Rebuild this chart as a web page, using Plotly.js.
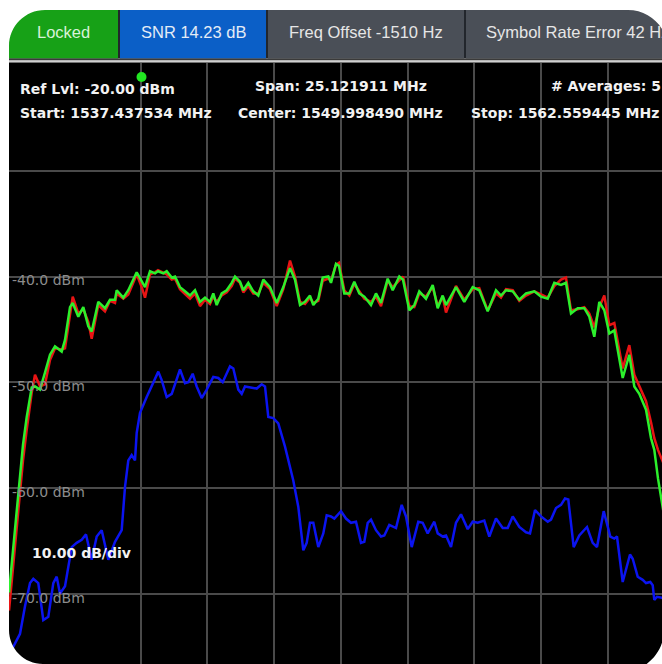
<!DOCTYPE html>
<html>
<head>
<meta charset="utf-8">
<script src="https://cdn.plot.ly/plotly-3.0.1.min.js"></script>
<style>
html,body{margin:0;padding:0;background:#ffffff;overflow:hidden;}
#chart{width:662px;height:664px;}
</style>
</head>
<body>
<div id="chart"></div>
<script>
// ---------- data ----------
const startFreq = 1537.437534;   // MHz
const stopFreq  = 1562.559445;   // MHz
const divFreq   = 2.5121911;     // MHz per division
const refLevel  = -20;           // dBm
const dbPerDiv  = 10;

const traceFreq = [
1537.502,1537.765,1538.029,1538.168,1538.357,1538.481,1538.669,1538.857,1539.046,1539.234,
1539.486,1539.611,1539.799,1539.901,1540.112,1540.300,1540.488,1540.616,1540.865,1541.117,
1541.306,1541.494,1541.558,1541.807,1541.995,1542.311,1542.500,1542.624,1542.812,1543.001,
1543.114,1543.313,1543.441,1543.630,1543.754,1543.942,1544.130,1544.319,1544.507,1544.695,
1544.884,1545.072,1545.196,1545.324,1545.513,1545.701,1545.889,1546.014,1546.202,1546.326,
1546.515,1546.703,1546.891,1547.080,1547.332,1547.584,1547.833,1548.085,1548.273,1548.462,
1548.650,1548.838,1548.963,1549.151,1549.317,1549.528,1549.629,1549.818,1549.931,1550.130,
1550.319,1550.507,1550.695,1550.884,1551.136,1551.324,1551.513,1551.765,1551.953,1552.202,
1552.341,1552.578,1552.767,1552.955,1553.207,1553.460,1553.648,1553.836,1553.961,1554.337,
1554.650,1554.966,1555.215,1555.531,1555.844,1556.032,1556.221,1556.473,1556.722,1556.974,
1557.286,1557.539,1557.791,1558.040,1558.292,1558.480,1558.669,1558.921,1559.170,1559.358,
1559.546,1559.735,1559.923,1560.111,1560.300,1560.616,1560.865,1561.053,1561.241,1561.494,
1561.682,1561.806,1561.945,1562.172];

const greenLevel = [
-69.9,-62.8,-55.9,-53.3,-50.5,-50.4,-50.7,-49.1,-47.4,-46.6,
-47.1,-46.0,-42.9,-42.5,-43.8,-42.9,-44.7,-45.2,-42.4,-43.0,
-42.2,-42.2,-41.3,-42.0,-41.3,-39.6,-40.5,-41.0,-39.5,-39.7,
-39.5,-39.7,-39.5,-40.1,-40.0,-41.0,-41.4,-41.8,-41.3,-42.4,
-42.0,-42.4,-41.6,-42.7,-41.6,-41.3,-40.6,-40.0,-40.5,-41.3,
-40.6,-41.4,-41.8,-40.3,-41.0,-42.5,-41.0,-39.2,-40.3,-42.7,
-42.4,-41.8,-42.7,-42.1,-40.1,-40.0,-40.6,-38.8,-39.0,-41.6,
-41.6,-40.5,-41.6,-41.9,-42.7,-41.6,-42.5,-40.2,-41.3,-40.0,
-40.3,-43.2,-42.7,-41.4,-42.1,-40.8,-43.0,-41.8,-42.7,-41.0,
-42.4,-41.0,-41.3,-43.3,-41.3,-41.8,-41.3,-41.4,-42.2,-41.6,
-41.4,-41.9,-42.1,-40.6,-40.8,-40.6,-43.5,-43.0,-43.0,-43.8,
-45.7,-42.4,-43.2,-45.4,-45.1,-49.6,-47.4,-50.4,-51.1,-52.6,
-55.3,-56.4,-59.1,-62.6];

const redLevel = [
-71.6,-64.5,-57.4,-54.5,-51.0,-49.3,-50.4,-50.2,-47.9,-46.8,
-46.9,-46.8,-43.6,-41.9,-43.5,-43.1,-44.3,-45.9,-42.7,-43.3,
-42.3,-42.5,-41.6,-42.1,-41.7,-39.8,-41.0,-42.0,-39.8,-39.6,
-39.4,-39.6,-39.8,-40.3,-40.2,-41.2,-41.7,-42.1,-41.6,-42.8,
-42.2,-42.6,-41.9,-42.4,-41.8,-41.5,-40.9,-40.2,-40.6,-41.5,
-40.9,-41.6,-41.6,-40.6,-41.2,-42.8,-41.2,-38.5,-40.0,-42.4,
-42.6,-42.0,-42.5,-42.3,-40.4,-40.2,-40.4,-38.9,-38.7,-41.3,
-41.8,-40.7,-41.4,-42.1,-42.4,-41.9,-42.8,-40.4,-41.0,-40.3,
-40.0,-42.8,-42.9,-41.6,-41.9,-41.0,-42.8,-41.9,-43.4,-40.9,
-42.2,-41.2,-41.1,-43.2,-41.6,-42.0,-41.2,-41.3,-42.3,-41.8,
-41.4,-41.7,-42.0,-40.9,-40.3,-40.1,-43.2,-43.1,-42.9,-43.5,
-44.8,-42.9,-41.8,-44.6,-44.4,-48.7,-46.5,-49.3,-50.3,-51.8,
-53.8,-55.3,-56.4,-57.8];

const blueFreq = [
1537.502,1537.727,1537.916,1538.104,1538.293,1538.417,1538.605,1538.793,1538.982,1539.170,
1539.298,1539.422,1539.611,1539.863,1540.051,1540.240,1540.402,1540.616,1540.805,1540.993,
1541.242,1541.494,1541.746,1541.871,1541.995,1542.123,1542.247,1542.311,1542.436,1542.688,
1542.936,1543.125,1543.253,1543.441,1543.630,1543.942,1544.130,1544.255,1544.420,1544.571,
1544.759,1544.948,1545.196,1545.385,1545.550,1545.825,1545.950,1546.138,1546.266,1546.390,
1546.831,1547.019,1547.144,1547.268,1547.456,1547.644,1547.897,1548.209,1548.398,1548.586,
1548.714,1548.838,1548.963,1549.151,1549.339,1549.467,1549.629,1549.754,1550.006,1550.194,
1550.383,1550.571,1550.759,1550.884,1551.012,1551.136,1551.324,1551.513,1551.637,1551.825,
1552.078,1552.292,1552.454,1552.669,1552.917,1553.083,1553.271,1553.520,1553.648,1553.836,
1553.961,1554.149,1554.337,1554.526,1554.778,1554.966,1555.155,1555.403,1555.592,1555.844,
1556.096,1556.285,1556.473,1556.722,1556.974,1557.124,1557.313,1557.539,1557.791,1557.915,
1558.104,1558.292,1558.443,1558.567,1558.770,1558.981,1559.271,1559.486,1559.648,1559.900,
1560.149,1560.300,1560.401,1560.616,1560.891,1560.993,1561.181,1561.369,1561.494,1561.656,
1561.746,1561.806,1561.908,1562.096,1562.247];

const blueLevel = [
-75.8,-74.7,-73.8,-71.2,-69.0,-68.6,-69.0,-72.5,-72.2,-69.0,
-68.4,-70.0,-69.3,-65.6,-65.2,-64.9,-64.4,-66.8,-64.6,-64.0,
-66.8,-65.1,-64.0,-59.9,-57.4,-56.9,-57.4,-54.8,-52.9,-51.4,
-50.1,-49.0,-49.8,-51.4,-51.1,-48.8,-50.1,-50.0,-49.2,-50.4,
-51.5,-50.7,-49.5,-49.6,-50.0,-48.5,-48.7,-50.7,-51.1,-50.4,
-50.6,-50.2,-50.4,-53.3,-53.4,-53.9,-56.1,-59.3,-61.8,-65.9,
-65.2,-63.3,-63.3,-65.6,-64.3,-62.6,-62.7,-62.9,-62.2,-62.9,
-63.3,-63.2,-65.2,-65.1,-63.3,-63.0,-64.0,-64.6,-64.5,-63.5,
-63.8,-61.6,-62.7,-65.6,-63.2,-63.3,-64.3,-63.2,-64.3,-64.6,
-64.5,-65.6,-63.3,-62.5,-63.9,-63.2,-63.3,-63.1,-64.6,-62.9,
-63.8,-63.8,-62.7,-63.7,-64.2,-64.3,-62.1,-62.7,-63.2,-63.0,
-61.9,-61.6,-61.0,-61.1,-65.6,-64.5,-63.7,-65.2,-65.6,-62.2,
-64.6,-64.8,-64.6,-68.9,-66.3,-66.7,-68.4,-68.7,-69.0,-68.9,
-69.2,-70.6,-70.3,-70.4,-70.6];

const yTickVals = [-30, -40, -50, -60, -70];
const yTickText = ["", "-40.0 dBm", "-50.0 dBm", "-60.0 dBm", "-70.0 dBm"];
const labelledTicks = [-40, -50, -60, -70];

const tabLabels = ["Locked", "SNR 14.23 dB", "Freq Offset -1510 Hz", "Symbol Rate Error 42 Hz"];
const infoLabels = ["Ref Lvl: -20.00 dBm", "Span: 25.121911 MHz", "# Averages: 5",
                    "Start: 1537.437534 MHz", "Center: 1549.998490 MHz", "Stop: 1562.559445 MHz"];
const scaleLabel = "10.00 dB/div";

// ---------- geometry helpers (pixel -> paper fraction) ----------
const W = 662, H = 664;
const PX = p => p / W;
const PY = p => 1 - p / H;

const shapes = [];
function rectPx(x0, y0, x1, y1, color, layer) {
  shapes.push({type:'rect', xref:'paper', yref:'paper', x0:PX(x0), x1:PX(x1), y0:PY(y1), y1:PY(y0),
               fillcolor:color, line:{width:0}, layer:layer || 'above'});
}
// tab bar
rectPx(9, 10, 670, 58.5, '#22262c', 'below');
rectPx(9, 10, 118, 58.5, '#17a117', 'below');
rectPx(120, 10, 266, 58.5, '#0b5fc7', 'below');
rectPx(268, 10, 464, 58.5, '#4a4f57', 'below');
rectPx(466, 10, 670, 58.5, '#4a4f57', 'below');
// separator under tabs
rectPx(9, 58.5, 670, 60.5, '#3a3a3a', 'below');
rectPx(9, 60.5, 670, 62.6, '#cfcfcf', 'below');
rectPx(9, 62.6, 670, 63.2, '#000000', 'below');

// black boxes behind the level labels
labelledTicks.forEach(v => {
  shapes.push({type:'rect', xref:'paper', yref:'y', x0:PX(9), x1:PX(85), y0:v - 1.18, y1:v + 0.61,
               fillcolor:'#000000', line:{width:0}, layer:'between'});
});
// reference-level marker dot
shapes.push({type:'circle', xref:'paper', yref:'paper', x0:PX(136.5), x1:PX(146.5), y0:PY(82), y1:PY(72),
             fillcolor:'#22e622', line:{width:0}, layer:'above'});

// white masks for the rounded screenshot corners
function cornerMask(cx, cy, R, sx, sy) {
  const k = 0.5523;
  const pts = [
    [cx + sx*R, cy + sy*R],
    [cx, cy + sy*R],
    [cx + sx*k*R, cy + sy*R], [cx + sx*R, cy + sy*k*R], [cx + sx*R, cy]
  ].map(p => [PX(p[0]).toFixed(5), PY(p[1]).toFixed(5)]);
  const path = 'M' + pts[0].join(',') + ' L' + pts[1].join(',') +
               ' C' + pts[2].join(',') + ' ' + pts[3].join(',') + ' ' + pts[4].join(',') + ' Z';
  shapes.push({type:'path', xref:'paper', yref:'paper', path:path, fillcolor:'#ffffff',
               line:{width:0}, layer:'above'});
}
cornerMask(45, 46, 36, -1, -1);
cornerMask(628, 50, 40, 1, -1);
cornerMask(43, 630, 34, -1, 1);
cornerMask(622, 630, 42, 1, 1);

// ---------- annotations ----------
const annotations = [];
const tabFont = {family:'Liberation Sans, Arial, sans-serif', size:16.5};
const tabPos = [[63, 'center', '#d8f2d8'], [193, 'center', '#e4ecf6'], [366, 'center', '#e6e6e6'], [484, 'left', '#e6e6e6']];
tabLabels.forEach((t, i) => {
  annotations.push({text:t, xref:'paper', yref:'paper', x:PX(tabPos[i][0]), y:PY(32),
    xanchor:tabPos[i][1], yanchor:'middle', showarrow:false,
    font:Object.assign({}, tabFont, {color:tabPos[i][2]})});
});
const infoFont = {family:'DejaVu Sans', size:14, color:'#f2f2f2', weight:'bold'};
const infoPos = [[18, 89], [253, 86], [549, 86], [18, 113], [236, 113], [469, 113]];
infoLabels.forEach((t, i) => {
  annotations.push({text:t, xref:'paper', yref:'paper', x:PX(infoPos[i][0]), y:PY(infoPos[i][1]),
    xanchor:'left', yanchor:'middle', showarrow:false, font:infoFont});
});
annotations.push({text:scaleLabel, xref:'paper', yref:'paper', x:PX(30), y:PY(553),
  xanchor:'left', yanchor:'middle', showarrow:false, font:infoFont});

// ---------- traces ----------
const data = [
  {x:traceFreq, y:redLevel, type:'scatter', mode:'lines', line:{color:'#e81414', width:2.5}, hoverinfo:'skip'},
  {x:traceFreq, y:greenLevel, type:'scatter', mode:'lines', line:{color:'#2cf02c', width:2.5}, hoverinfo:'skip'},
  {x:blueFreq, y:blueLevel, type:'scatter', mode:'lines', line:{color:'#0b14f0', width:2.5}, hoverinfo:'skip'}
];

const xLeft = 1537.5015, xRight = 1562.0961;
const layout = {
  width:W, height:H,
  margin:{l:0, r:0, t:0, b:0, pad:0},
  paper_bgcolor:'#ffffff', plot_bgcolor:'#000000',
  showlegend:false,
  xaxis:{domain:[PX(9), 1], range:[xLeft, xRight], tick0:startFreq, dtick:divFreq,
         showticklabels:false, ticks:'', showgrid:true, gridcolor:'#4a4a4a', gridwidth:2,
         zeroline:false, showline:false, fixedrange:true},
  yaxis:{domain:[0, PY(63)], range:[-76.66, refLevel + 0.2], tickvals:yTickVals, ticktext:yTickText,
         ticklabelposition:'inside', ticks:'', ticklabelshift:4, ticklabelstandoff:0,
         tickfont:{family:'DejaVu Sans', size:14, color:'#8c8c8c'},
         showgrid:true, gridcolor:'#4a4a4a', gridwidth:2, zeroline:false, showline:false, fixedrange:true},
  shapes:shapes,
  annotations:annotations
};

Plotly.newPlot('chart', data, layout, {staticPlot:true, displayModeBar:false});
</script>
</body>
</html>
